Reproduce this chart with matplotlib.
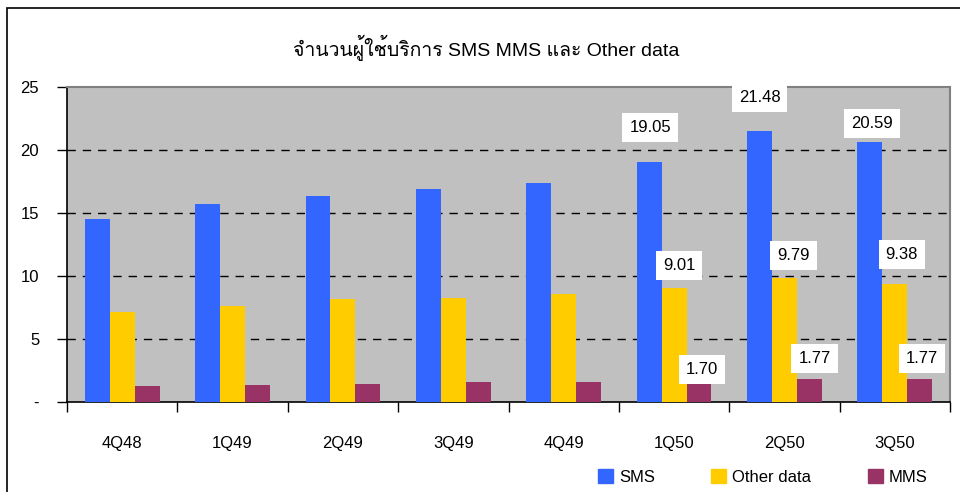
import matplotlib
matplotlib.use("Agg")
import matplotlib.pyplot as plt
from matplotlib import font_manager
from matplotlib.patches import Rectangle, Patch
from matplotlib.ft2font import FT2Font
import numpy as np

categories = ["4Q48", "1Q49", "2Q49", "3Q49", "4Q49", "1Q50", "2Q50", "3Q50"]
sms = [14.50, 15.69, 16.33, 16.88, 17.36, 19.05, 21.48, 20.59]
other = [7.14, 7.60, 8.15, 8.25, 8.55, 9.01, 9.79, 9.38]
mms = [1.27, 1.33, 1.40, 1.56, 1.56, 1.70, 1.77, 1.77]
yticks = [0, 5, 10, 15, 20, 25]
ytick_labels = ["-", "5", "10", "15", "20", "25"]
title = "จำนวนผู้ใช้บริการ SMS MMS และ Other data"

# find a font with Thai glyphs
thai_family = None
for fe in font_manager.fontManager.ttflist:
    try:
        f = FT2Font(fe.fname)
        if f.get_char_index(ord("จ")) and f.get_char_index(ord("ผ")):
            thai_family = fe.name
            break
    except Exception:
        pass
fams = ["Liberation Sans", "DejaVu Sans"]
title_fams = ["Liberation Sans"] + ([thai_family] if thai_family else []) + ["DejaVu Sans"]
plt.rcParams["font.family"] = fams

fig = plt.figure(figsize=(9.6, 4.92), dpi=100)
W, H = 960, 492
# outer chart frame
fig.patches.append(Rectangle((7 / W, -0.1), 2, (H - 8) / H + 0.1, transform=fig.transFigure,
                             fill=False, edgecolor="black", linewidth=1.2))

ax = fig.add_axes([67 / W, 1 - 401.7 / H, (950 - 67) / W, (401.7 - 86.7) / H])
ax.set_facecolor("#C0C0C0")

x = np.arange(len(categories))
bw = 0.226
c_sms, c_oth, c_mms = "#3366FF", "#FFCC00", "#993366"
ax.bar(x - bw, sms, bw, color=c_sms, zorder=3)
ax.bar(x, other, bw, color=c_oth, zorder=3)
ax.bar(x + bw, mms, bw, color=c_mms, zorder=3)

ax.set_xlim(-0.5, len(categories) - 0.5)
ax.set_ylim(0, 25)
ax.set_yticks(yticks)
ax.set_yticklabels(ytick_labels, fontsize=12)
for yv in yticks[1:-1]:
    ax.axhline(yv, color="black", linestyle=(0, (6, 5)), linewidth=1.0, zorder=1)
ax.tick_params(axis="y", direction="out", length=7, width=1, pad=13)
ax.set_xticks(np.arange(len(categories) + 1) - 0.5, minor=False)
ax.set_xticklabels([])
ax.tick_params(axis="x", direction="out", length=7, width=1)
ax.set_xticks(x, minor=True)
ax.set_xticklabels(categories, minor=True, fontsize=12)
ax.tick_params(axis="x", which="minor", length=0, pad=25)
for s in ["top", "right"]:
    ax.spines[s].set_color("#808080")
    ax.spines[s].set_linewidth(1.5)
for s in ["left", "bottom"]:
    ax.spines[s].set_color("black")
    ax.spines[s].set_linewidth(1.2)

# data labels for last three quarters
bbox = dict(boxstyle="square,pad=0.42", facecolor="white", edgecolor="none")
label_offsets = {
    "sms": [(1, 34), (0, 34), (2, 19)],
    "other": [(5, 23), (9, 23), (7, 29)],
    "mms": [(3, 11), (5, 21), (2, 21)],
}
for series, key, dx in [(sms, "sms", -bw), (other, "other", 0), (mms, "mms", bw)]:
    for j, i in enumerate(range(5, 8)):
        ox, oy = label_offsets[key][j]
        ax.annotate(f"{series[i]:.2f}", (x[i] + dx, series[i]), xytext=(ox, oy),
                    textcoords="offset pixels", ha="center", va="center",
                    fontsize=12, bbox=bbox, zorder=5, annotation_clip=False)

fig.text(486 / W, 1 - 48 / H, title, ha="center", va="center", fontsize=14,
         family=title_fams)

handles = [Patch(color=c_sms, label="SMS"), Patch(color=c_oth, label="Other data"),
           Patch(color=c_mms, label="MMS")]
fig.legend(handles=handles, loc="center left", bbox_to_anchor=(598 / W, 1 - 477 / H),
           ncol=3, frameon=False, fontsize=12, handlelength=0.9, handleheight=0.9,
           handletextpad=0.35, columnspacing=3.4, borderpad=0, borderaxespad=0)

fig.savefig("out.png", dpi=100)
